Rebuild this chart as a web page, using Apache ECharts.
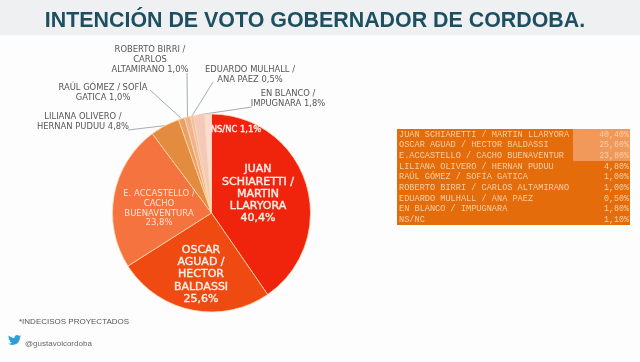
<!DOCTYPE html>
<html>
<head>
<meta charset="utf-8">
<style>html,body{margin:0;padding:0;background:#fdfdfd}#chart{width:640px;height:362px}</style>
<script src="https://cdn.jsdelivr.net/npm/echarts@6/dist/echarts.min.js"></script>
</head>
<body>
<div id="chart"></div>
<script>
// datos del grafico
var names = ['JUAN SCHIARETTI / MARTIN LLARYORA', 'OSCAR AGUAD / HECTOR BALDASSI', 'E. ACCASTELLO / CACHO BUENAVENTURA', 'LILIANA OLIVERO / HERNAN PUDUU', 'RAÚL GÓMEZ / SOFÍA GATICA', 'ROBERTO BIRRI / CARLOS ALTAMIRANO', 'EDUARDO MULHALL / ANA PAEZ', 'EN BLANCO / IMPUGNARA', 'NS/NC'];
var values = [40.4, 25.6, 23.8, 4.8, 1.0, 1.0, 0.5, 1.8, 1.1];
var sliceLabels = [
    'JUAN\nSCHIARETTI /\nMARTIN\nLLARYORA\n40,4%',
    'OSCAR\nAGUAD /\nHECTOR\nBALDASSI\n25,6%',
    'E. ACCASTELLO /\nCACHO\nBUENAVENTURA\n23,8%',
    'LILIANA OLIVERO /\nHERNAN PUDUU 4,8%',
    'RAÚL GÓMEZ / SOFÍA\nGATICA 1,0%',
    'ROBERTO BIRRI /\nCARLOS\nALTAMIRANO 1,0%',
    'EDUARDO MULHALL /\nANA PAEZ 0,5%',
    'EN BLANCO /\nIMPUGNARA 1,8%',
    'NS/NC 1,1%'
];
var colors = ['#f0240c', '#ee4a12', '#f4733f', '#e38b3f', '#e9a064', '#efb38e', '#f1bca6', '#f3c9bb', '#f9ddd2'];
var tableNames = ['JUAN SCHIARETTI / MARTIN LLARYORA', 'OSCAR AGUAD / HECTOR BALDASSI', 'E.ACCASTELLO / CACHO BUENAVENTUR', 'LILIANA OLIVERO / HERNAN PUDUU', 'RAÚL GÓMEZ / SOFÍA GATICA', 'ROBERTO BIRRI / CARLOS ALTAMIRANO', 'EDUARDO MULHALL / ANA PAEZ', 'EN BLANCO / IMPUGNARA', 'NS/NC'];
var tableValues = ['40,40%', '25,60%', '23,80%', '4,80%', '1,00%', '1,00%', '0,50%', '1,80%', '1,10%'];

// donde va cada etiqueta y donde arranca su linea
var labelPos = [
    {x: 258, y: 194, size: 11, lh: 12.3, color: '#fdeee6'},
    {x: 201, y: 274.5, size: 11, lh: 12.3, color: '#fdeee6'},
    {x: 159, y: 208.5, size: 8.5, lh: 9.7, color: '#fde3d6'},
    {x: 83, y: 122, size: 8.4, lh: 9.8, color: '#555', line: [128, 130]},
    {x: 103, y: 93, size: 8.4, lh: 9.8, color: '#555', line: [150, 90]},
    {x: 150, y: 60, size: 8.4, lh: 9.8, color: '#555', line: [187, 73]},
    {x: 250, y: 75, size: 8.4, lh: 9.8, color: '#555', line: [213, 82]},
    {x: 288, y: 99, size: 8.4, lh: 9.8, color: '#555', line: [252, 107]},
    {x: 236, y: 130, size: 8.4, lh: 10, color: '#fdeee6'}
];

var twitter = 'M23.953 4.57a10 10 0 0 1-2.825.775a4.958 4.958 0 0 0 2.163-2.723c-.951.555-2.005.959-3.127 1.184a4.92 4.92 0 0 0-8.384 4.482C7.69 8.095 4.067 6.13 1.64 3.162a4.822 4.822 0 0 0-.666 2.475c0 1.71.87 3.213 2.188 4.096a4.904 4.904 0 0 1-2.228-.616v.06a4.923 4.923 0 0 0 3.946 4.827a4.996 4.996 0 0 1-2.212.085a4.936 4.936 0 0 0 4.604 3.417a9.867 9.867 0 0 1-6.102 2.105c-.39 0-.779-.023-1.17-.067a13.995 13.995 0 0 0 7.557 2.209c9.053 0 13.998-7.496 13.998-13.985c0-.21 0-.42-.015-.63A9.935 9.935 0 0 0 24 4.59z';
echarts.graphic.registerShape('pajarito', echarts.graphic.extendPath(twitter, {}));

var graphics = [
    {type: 'rect', z: 0, shape: {x: 0, y: 0, width: 640, height: 35}, style: {fill: '#eff0f2'}},
    {type: 'rect', z: 1, shape: {x: 397, y: 129, width: 233, height: 96}, style: {fill: '#e46c0a'}},
    {type: 'rect', z: 1, shape: {x: 573, y: 129, width: 57, height: 32}, style: {fill: '#f0995a'}},
    {type: 'pajarito', z: 2, x: 8, y: 334, scaleX: 0.55, scaleY: 0.5, style: {fill: '#2a9fd8'}}
];
tableNames.forEach(function (n, i) {
    var y = 134.5 + i * 10.65;
    graphics.push({type: 'text', z: 2, x: 399, y: y, style: {text: n, fill: '#f7cfa9', font: '8.6px "Liberation Mono"', verticalAlign: 'middle'}});
    graphics.push({type: 'text', z: 2, x: 629, y: y, style: {text: tableValues[i], fill: '#f7cfa9', font: '8.3px "Liberation Mono"', align: 'right', verticalAlign: 'middle'}});
});

var myChart = echarts.init(document.getElementById('chart'));
myChart.setOption({
    animation: false,
    title: [
        {text: 'INTENCIÓN DE VOTO GOBERNADOR DE CORDOBA.', left: 310, top: 6, textAlign: 'center',
            textStyle: {fontFamily: 'Liberation Sans', fontSize: 21.4, fontWeight: 'bold', color: '#1d4f60'}},
        {text: '*INDECISOS PROYECTADOS', left: 14, top: 313, textStyle: {fontFamily: 'Liberation Sans', fontSize: 8, fontWeight: 'normal', color: '#555'}},
        {text: '@gustavolcordoba', left: 20, top: 335, textStyle: {fontFamily: 'Liberation Sans', fontSize: 8, fontWeight: 'normal', color: '#666'}}
    ],
    graphic: graphics,
    color: colors,
    series: [{
        type: 'pie',
        center: [211.5, 213],
        radius: [0, 99],
        startAngle: 90,
        clockwise: true,
        itemStyle: {borderColor: '#fbd9b0', borderWidth: 0.8},
        label: {fontFamily: 'DejaVu Sans', align: 'center', formatter: function (p) { return sliceLabels[p.dataIndex]; }},
        labelLine: {show: true, length: 5, length2: 5, lineStyle: {color: '#7a8a90', width: 0.7}},
        labelLayout: function (p) {
            var l = labelPos[p.dataIndex];
            var out = {x: l.x, y: l.y, align: 'center', verticalAlign: 'middle'};
            if (l.line && p.labelLinePoints) {
                var a = p.labelLinePoints[0];
                out.labelLinePoints = [a, [(a[0] + l.line[0]) / 2, (a[1] + l.line[1]) / 2], l.line];
            }
            return out;
        },
        data: names.map(function (n, i) {
            var lab = labelPos[i];
            var heavy = i < 2 || i == 8;
            return {
                name: n, value: values[i],
                label: {fontSize: lab.size, color: lab.color, lineHeight: lab.lh, textBorderColor: heavy ? lab.color : 'transparent', textBorderWidth: heavy ? 0.4 : 0},
                labelLine: {show: i > 2 && i < 8}
            };
        })
    }]
});
</script>
</body>
</html>
